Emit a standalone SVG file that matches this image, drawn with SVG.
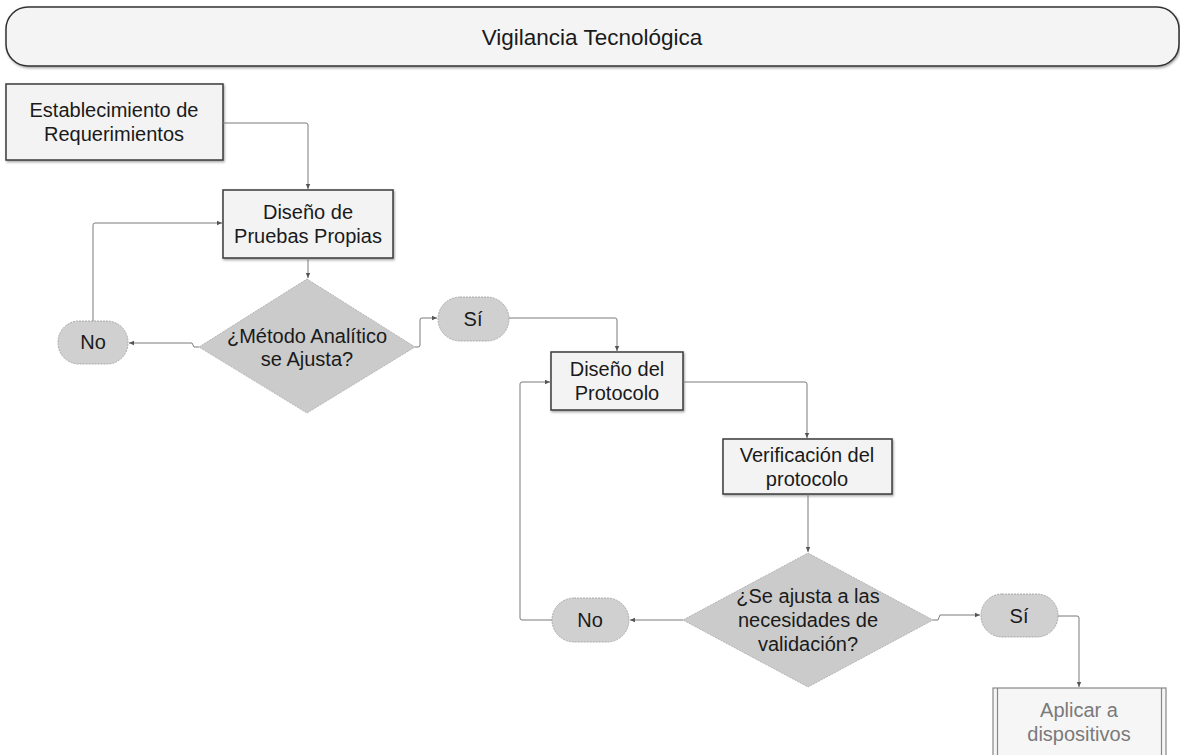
<svg xmlns="http://www.w3.org/2000/svg" width="1180" height="755" viewBox="0 0 1180 755">
<style>
  text { font-family: "Liberation Sans", Arial, sans-serif; font-size: 20px; fill: #1a1a1a; text-anchor: middle; }
  .ttl { font-size: 22.5px; }
  .box { fill: #f3f3f3; stroke: #3a3a3a; stroke-width: 1.5; filter: url(#sh); }
  .title { fill: #f4f4f4; stroke: #333; stroke-width: 1.5; filter: url(#sh); }
  .dia { fill: #cbcbcb; stroke: #aaa; stroke-width: 0.8; stroke-dasharray: 2 1; }
  .pill { fill: #d0d0d0; stroke: #999; stroke-width: 0.8; stroke-dasharray: 2 1; }
  .proc { fill: #f6f6f6; stroke: #888; stroke-width: 1.2; }
  .conn path { fill: none; stroke: #7a7a7a; stroke-width: 1; marker-end: url(#ah); }
  .grey { fill: #7a7a7a; }
</style>
<defs>
  <filter id="sh" x="-5%" y="-5%" width="110%" height="120%">
    <feDropShadow dx="1" dy="1.5" stdDeviation="1" flood-color="#000" flood-opacity="0.35"/>
  </filter>
  <marker id="ah" markerWidth="6" markerHeight="6" refX="5" refY="3" orient="auto" markerUnits="userSpaceOnUse">
    <path d="M0,0.8 L5,3 L0,5.2 Z" fill="#555"/>
  </marker>
</defs>

<g id="title">
  <rect class="title" x="6" y="7" width="1173" height="59" rx="22" ry="22"/>
  <text class="ttl" x="592" y="45">Vigilancia Tecnológica</text>
</g>

<g id="n-requerimientos">
  <rect class="box" x="6" y="84" width="217" height="76"/>
  <text x="114" y="117">Establecimiento de</text>
  <text x="114" y="141">Requerimientos</text>
</g>

<g id="n-pruebas">
  <rect class="box" x="223" y="190" width="170" height="68"/>
  <text x="308" y="219">Diseño de</text>
  <text x="308" y="243">Pruebas Propias</text>
</g>

<g id="d-metodo">
  <polygon class="dia" points="307,279 415,347 307,413 199,347"/>
  <text x="307" y="343">¿Método Analítico</text>
  <text x="307" y="366">se Ajusta?</text>
</g>

<g id="p-no1">
  <rect class="pill" x="58" y="321" width="70" height="43" rx="21" ry="21"/>
  <text x="93" y="349">No</text>
</g>

<g id="p-si1">
  <rect class="pill" x="438" y="297" width="71" height="44" rx="22" ry="22"/>
  <text x="473" y="326">Sí</text>
</g>

<g id="n-protocolo">
  <rect class="box" x="551" y="352" width="132" height="58"/>
  <text x="617" y="376">Diseño del</text>
  <text x="617" y="400">Protocolo</text>
</g>

<g id="n-verificacion">
  <rect class="box" x="723" y="439" width="169" height="55"/>
  <text x="807" y="462">Verificación del</text>
  <text x="807" y="486">protocolo</text>
</g>

<g id="d-ajusta">
  <polygon class="dia" points="808,553 933,620 808,687 683,620"/>
  <text x="808" y="603">¿Se ajusta a las</text>
  <text x="808" y="627">necesidades de</text>
  <text x="808" y="651">validación?</text>
</g>

<g id="p-no2">
  <rect class="pill" x="552" y="598" width="77" height="44" rx="22" ry="22"/>
  <text x="590" y="627">No</text>
</g>

<g id="p-si2">
  <rect class="pill" x="981" y="594" width="77" height="43" rx="21" ry="21"/>
  <text x="1019" y="623">Sí</text>
</g>

<g id="n-aplicar">
  <rect class="proc" x="993" y="688" width="173" height="75"/>
  <line x1="997.5" y1="688" x2="997.5" y2="763" stroke="#888" stroke-width="1.2"/>
  <line x1="1161.5" y1="688" x2="1161.5" y2="763" stroke="#888" stroke-width="1.2"/>
  <text class="grey" x="1079" y="717">Aplicar a</text>
  <text class="grey" x="1079" y="741">dispositivos</text>
</g>

<g id="connectors" class="conn">
  <path d="M223,123 H306 Q308,123 308,125 V189"/>
  <path d="M308,258 V278"/>
  <path d="M199,347 H194 L192,343 H129"/>
  <path d="M93,321 V225 Q93,223 95,223 H222"/>
  <path d="M415,347 H418 Q420,347 420,345 V320 Q420,318 422,318 H437"/>
  <path d="M509,318 H615 Q617,318 617,320 V351"/>
  <path d="M683,382 H805 Q807,382 807,384 V438"/>
  <path d="M808,494 V552"/>
  <path d="M683,620 H630"/>
  <path d="M552,620 H522 Q520,620 520,618 V384 Q520,382 522,382 H550"/>
  <path d="M933,620 H938 L940,615 H980"/>
  <path d="M1058,616 H1077 Q1079,616 1079,618 V687"/>
</g>
</svg>
